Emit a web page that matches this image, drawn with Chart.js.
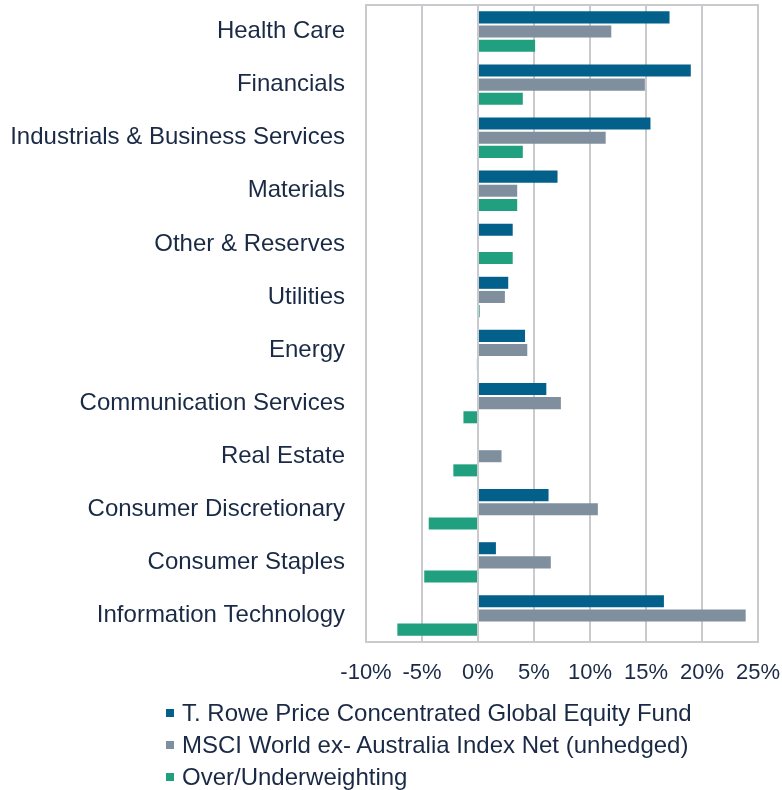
<!DOCTYPE html>
<html>
<head>
<meta charset="utf-8">
<script src="https://cdn.jsdelivr.net/npm/chart.js@4"></script>
<style>
    html, body { margin: 0; padding: 0; background: #ffffff; }
    #wrap { position: relative; width: 782px; height: 790px; }
    #legend {
        position: absolute; left: 166px; top: 697px;
        font-family: 'Liberation Sans', Arial, sans-serif; font-size: 24px;
        color: #1a2a45; line-height: 32px;
    }
    #legend .item { display: flex; align-items: center; white-space: nowrap; }
    #legend .box { width: 8px; height: 8px; margin-right: 8px; }
</style>
</head>
<body>
<div id="wrap">
    <canvas id="sector-chart" width="782" height="790"></canvas>
    <div id="legend"></div>
</div>
<script>
const categories = [
    'Health Care', 'Financials', 'Industrials & Business Services', 'Materials',
    'Other & Reserves', 'Utilities', 'Energy', 'Communication Services',
    'Real Estate', 'Consumer Discretionary', 'Consumer Staples', 'Information Technology'
];
const seriesNames = [
    'T. Rowe Price Concentrated Global Equity Fund',
    'MSCI World ex- Australia Index Net (unhedged)',
    'Over/Underweighting'
];
const fundWeights = [17.1, 19.0, 15.4, 7.1, 3.1, 2.7, 4.2, 6.1, 0, 6.3, 1.6, 16.6];
const indexWeights = [11.9, 14.9, 11.4, 3.5, 0, 2.4, 4.4, 7.4, 2.1, 10.7, 6.5, 23.9];
const overUnder = [5.1, 4.0, 4.0, 3.5, 3.1, 0.15, -0.1, -1.3, -2.2, -4.4, -4.8, -7.2];
const xTicks = [-10, -5, 0, 5, 10, 15, 20, 25];

const seriesColors = ['#03608a', '#7f8f9d', '#20a07e'];
const textColor = '#1a2a45';
const gridColor = '#c8cacd';
const fontFamily = "'Liberation Sans', Arial, sans-serif";

// box around the plot area
const frameBox = {
    id: 'frameBox',
    afterDraw(chart) {
        const { ctx, chartArea } = chart;
        ctx.save();
        ctx.strokeStyle = gridColor;
        ctx.lineWidth = 2;
        ctx.strokeRect(chartArea.left, chartArea.top, chartArea.right - chartArea.left, chartArea.bottom - chartArea.top);
        ctx.restore();
    }
};

const ctx = document.getElementById('sector-chart').getContext('2d');
const chart = new Chart(ctx, {
    type: 'bar',
    data: {
        labels: categories,
        datasets: [fundWeights, indexWeights, overUnder].map((values, i) => ({
            label: seriesNames[i],
            data: values,
            backgroundColor: seriesColors[i],
            categoryPercentage: 0.8,
            barPercentage: 0.85
        }))
    },
    options: {
        indexAxis: 'y',
        responsive: false,
        animation: false,
        layout: {
            padding: { top: 5, right: 24, left: 0, bottom: 100 }
        },
        scales: {
            x: {
                min: -10,
                max: 25,
                afterBuildTicks: function (scale) {
                    scale.ticks = xTicks.map(v => ({ value: v }));
                },
                afterFit: function (scale) {
                    scale.height = 48;
                    // let layout.padding decide the plot edges
                    scale.paddingLeft = 0;
                    scale.paddingRight = 0;
                },
                grid: {
                    color: gridColor,
                    lineWidth: 2,
                    drawTicks: false
                },
                border: { display: false },
                ticks: {
                    padding: 18,
                    autoSkip: false,
                    maxRotation: 0,
                    minRotation: 0,
                    color: textColor,
                    font: { family: fontFamily, size: 22 },
                    callback: function (value) {
                        return value + '%';
                    }
                }
            },
            y: {
                afterFit: function (scale) {
                    scale.width = 366;
                    scale.paddingTop = 0;
                    scale.paddingBottom = 0;
                },
                grid: { display: false, drawTicks: false },
                border: { display: false },
                ticks: {
                    padding: 21,
                    color: textColor,
                    font: { family: fontFamily, size: 24 }
                }
            }
        },
        plugins: {
            legend: { display: false },
            tooltip: { enabled: false }
        }
    },
    plugins: [frameBox]
});

// legend in html, one item per line
const legendEl = document.getElementById('legend');
chart.data.datasets.forEach(ds => {
    const item = document.createElement('div');
    item.className = 'item';
    const box = document.createElement('span');
    box.className = 'box';
    box.style.background = ds.backgroundColor;
    const label = document.createElement('span');
    label.textContent = ds.label;
    item.appendChild(box);
    item.appendChild(label);
    legendEl.appendChild(item);
});
</script>
</body>
</html>
